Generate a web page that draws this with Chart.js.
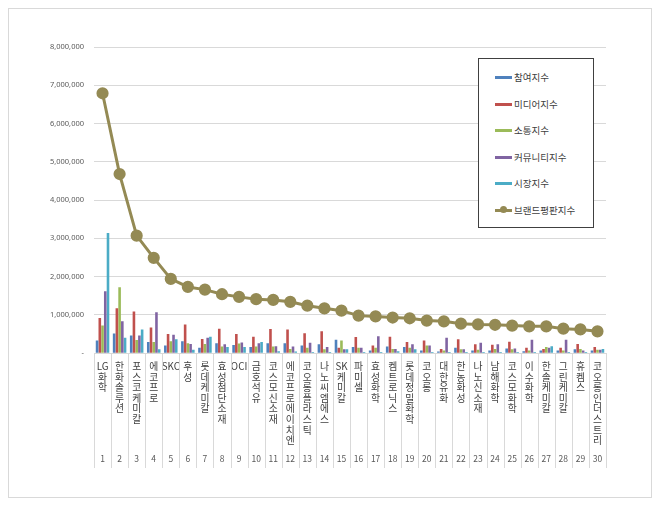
<!DOCTYPE html>
<html>
<head>
<meta charset="utf-8">
<script src="https://cdn.jsdelivr.net/npm/chart.js@4"></script>
<style>
  body { margin: 0; background: #fff; font-family: "Noto Sans CJK KR", "Noto Sans", sans-serif; }
  #frame { position: absolute; left: 8px; top: 8px; width: 642px; height: 488px; border: 1px solid #d9d9d9; }
  #legend { position: absolute; left: 478px; top: 58px; width: 116px; height: 170px; border: 1px solid #404040; background: #fff; box-sizing: border-box; }
  .item { position: absolute; left: 16px; height: 14px; font-size: 9.5px; color: #404040; line-height: 14px; white-space: nowrap; }
  .mark { display: inline-block; width: 17px; height: 3px; vertical-align: middle; margin-right: 2px; position: relative; top: -1px; }
  .dot { position: absolute; left: 5px; top: -2.5px; width: 7px; height: 7px; border-radius: 50%; }
</style>
</head>
<body>
<div id="frame"><canvas id="chart" width="642" height="488"></canvas></div>
<div id="legend"></div>
<script>
const names = ["LG화학", "한화솔루션", "포스코케미칼", "에코프로", "SKC", "후성", "롯데케미칼", "효성첨단소재", "OCI", "금호석유",
  "코스모신소재", "에코프로에이치엔", "코오롱플라스틱", "나노씨엠에스", "SK케미칼", "파미셀", "효성화학", "켐트로닉스", "롯데정밀화학", "코오롱",
  "대한유화", "한농화성", "나노신소재", "남해화학", "코스모화학", "이수화학", "한솔케미칼", "그린케미칼", "휴켐스", "코오롱인더스트리"];
const ranks = names.map((n, i) => String(i + 1));

const participation = [330000, 510000, 460000, 290000, 200000, 310000, 140000, 260000, 210000, 160000, 260000, 260000, 200000, 230000, 350000, 160000, 70000, 170000, 160000, 70000, 40000, 140000, 70000, 70000, 120000, 50000, 70000, 70000, 100000, 70000];
const media = [920000, 1170000, 1090000, 670000, 500000, 750000, 370000, 640000, 500000, 430000, 630000, 620000, 520000, 570000, 140000, 420000, 200000, 430000, 290000, 330000, 110000, 360000, 230000, 220000, 300000, 140000, 110000, 140000, 240000, 160000];
const communication = [720000, 1720000, 340000, 290000, 310000, 260000, 240000, 170000, 250000, 170000, 170000, 110000, 140000, 100000, 330000, 140000, 140000, 110000, 140000, 200000, 70000, 100000, 90000, 110000, 100000, 70000, 160000, 70000, 110000, 90000];
const community = [1620000, 830000, 460000, 1070000, 480000, 240000, 400000, 230000, 280000, 260000, 180000, 170000, 270000, 160000, 100000, 140000, 440000, 110000, 230000, 200000, 400000, 100000, 270000, 230000, 120000, 350000, 140000, 350000, 70000, 90000];
const market = [3140000, 400000, 620000, 100000, 360000, 90000, 430000, 160000, 160000, 290000, 50000, 40000, 30000, 30000, 100000, 30000, 30000, 50000, 100000, 30000, 30000, 30000, 30000, 30000, 30000, 30000, 180000, 30000, 30000, 110000];
const brand = [6790000, 4680000, 3070000, 2490000, 1940000, 1730000, 1660000, 1540000, 1470000, 1410000, 1390000, 1340000, 1240000, 1170000, 1110000, 980000, 960000, 930000, 910000, 850000, 830000, 770000, 750000, 740000, 720000, 700000, 700000, 640000, 620000, 570000];

const yTickLabels = ["-", "1,000,000", "2,000,000", "3,000,000", "4,000,000", "5,000,000", "6,000,000", "7,000,000", "8,000,000"];

const barSeries = [
  { label: "참여지수", data: participation, color: "#4f81bd" },
  { label: "미디어지수", data: media, color: "#c0504d" },
  { label: "소통지수", data: communication, color: "#9bbb59" },
  { label: "커뮤니티지수", data: community, color: "#8064a2" },
  { label: "시장지수", data: market, color: "#4bacc6" },
];
const lineSeries = { label: "브랜드평판지수", data: brand, color: "#948a54" };

// stack each name vertically; keep latin runs (LG, SKC) together
function stackLabel(name) {
  return name.match(/[A-Za-z]+|./g);
}

// category separators running down through both label rows
const separators = {
  id: "separators",
  afterDraw(chart) {
    const x = chart.scales.x;
    const bottom = chart.scales.x2.bottom + 4;
    const ctx = chart.ctx;
    const step = (x.right - x.left) / names.length;
    ctx.save();
    ctx.strokeStyle = "#d9d9d9";
    ctx.lineWidth = 1;
    ctx.beginPath();
    for (let i = 0; i <= names.length; i++) {
      const px = Math.round(x.left + i * step) + 0.5;
      ctx.moveTo(px, x.top);
      ctx.lineTo(px, bottom);
    }
    ctx.stroke();
    ctx.restore();
  },
};

const datasets = barSeries.map((s) => ({
  type: "bar",
  label: s.label,
  data: s.data,
  backgroundColor: s.color,
  barPercentage: 0.95,
  categoryPercentage: 0.8,
  order: 2,
}));
datasets.push({
  type: "line",
  label: lineSeries.label,
  data: lineSeries.data,
  borderColor: lineSeries.color,
  backgroundColor: lineSeries.color,
  borderWidth: 3,
  pointRadius: 4.6,
  pointHoverRadius: 4.6,
  tension: 0,
  order: 1,
});

new Chart(document.getElementById("chart"), {
  data: { labels: names.map(stackLabel), datasets },
  options: {
    responsive: false,
    animation: false,
    layout: { padding: { left: 30, right: 45, top: 38, bottom: 33 } },
    plugins: { legend: { display: false }, tooltip: { enabled: false } },
    scales: {
      x: {
        offset: true,
        border: { color: "#d9d9d9" },
        grid: { display: false, drawTicks: false },
        ticks: {
          autoSkip: false,
          maxRotation: 0,
          padding: 8,
          color: "#404040",
          font: { family: "Noto Sans CJK KR", size: 9.8, lineHeight: 1.08 },
        },
      },
      x2: {
        type: "category",
        position: "bottom",
        labels: ranks,
        offset: true,
        border: { display: false },
        grid: { display: false, drawTicks: false },
        ticks: {
          autoSkip: false,
          maxRotation: 0,
          padding: 0,
          color: "#595959",
          font: { family: "Noto Sans CJK KR", size: 8.5 },
        },
      },
      y: {
        min: 0,
        max: 8000000,
        afterFit: (scale) => { scale.width = 55; },
        border: { display: false },
        grid: { color: "#d9d9d9", drawTicks: false },
        ticks: {
          stepSize: 1000000,
          padding: 10,
          color: "#595959",
          font: { family: "Noto Sans", size: 7.5 },
          callback: (v, i) => yTickLabels[i],
        },
      },
    },
  },
  plugins: [separators],
});

const legend = document.getElementById("legend");
const legendItems = barSeries.concat([lineSeries]);
legend.innerHTML = legendItems
  .map((s, i) => {
    const dot = s === lineSeries ? `<span class="dot" style="background:${s.color}"></span>` : "";
    return `<div class="item" style="top:${11 + i * 26.6}px"><span class="mark" style="background:${s.color}">${dot}</span>${s.label}</div>`;
  })
  .join("");
</script>
</body>
</html>
